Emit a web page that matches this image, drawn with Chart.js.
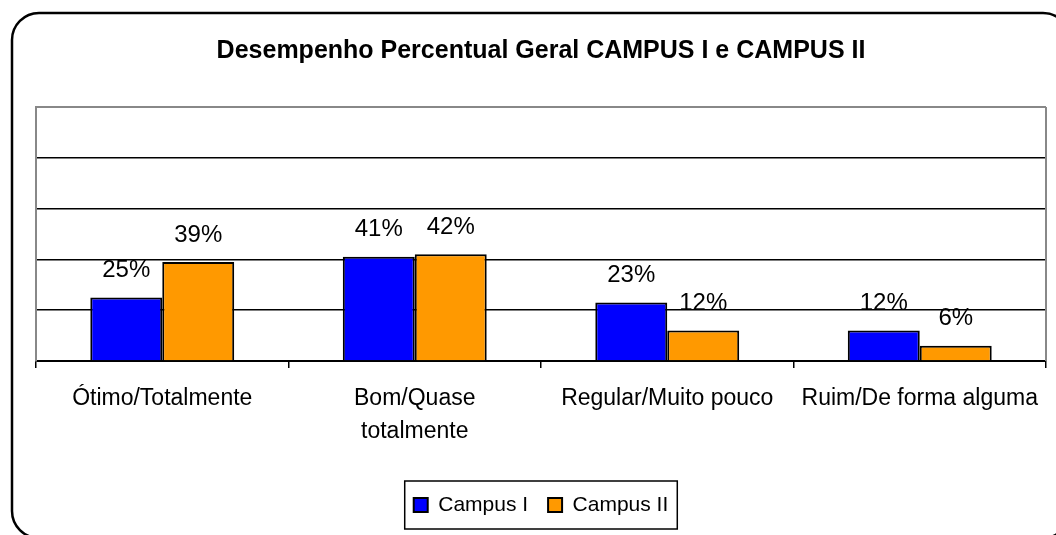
<!DOCTYPE html>
<html>
<head>
<meta charset="utf-8">
<script src="https://cdn.jsdelivr.net/npm/chart.js@4"></script>
<style>
  body { margin: 0; background: #fff; }
</style>
</head>
<body>
<canvas id="chart" width="1056" height="535"></canvas>
<script>
const categories = ["Ótimo/Totalmente", ["Bom/Quase", "totalmente"], "Regular/Muito pouco", "Ruim/De forma alguma"];
const campus1 = [25, 41, 23, 12];
const campus2 = [39, 42, 12, 6];
const yTicks = [0, 20, 40, 60, 80, 100];

const fontFamily = "'Liberation Sans', Arial, sans-serif";
Chart.defaults.font.family = fontFamily;
Chart.defaults.color = "#000";

// rounded outer frame, white background
const frame = {
  id: "frame",
  beforeDraw(chart) {
    const c = chart.ctx;
    c.save();
    c.fillStyle = "#fff";
    c.fillRect(0, 0, chart.width, chart.height);
    c.beginPath();
    c.roundRect(12, 13, 1058, 525, 27);
    c.lineWidth = 2.5;
    c.strokeStyle = "#000";
    c.stroke();
    c.restore();
  },
  afterDraw(chart) {
    const c = chart.ctx;
    const a = chart.chartArea;
    c.save();
    // right side of plot area
    c.strokeStyle = "#888";
    c.lineWidth = 2;
    c.beginPath();
    c.moveTo(a.right, a.top);
    c.lineTo(a.right, a.bottom);
    c.stroke();
    // box round the legend
    const boxes = chart.legend.legendHitBoxes;
    if (boxes && boxes.length) {
      const first = boxes[0], last = boxes[boxes.length - 1];
      const x0 = first.left - 9;
      const x1 = last.left + last.width + 9;
      const y0 = first.top - 13.5;
      const y1 = first.top + first.height + 13.5;
      c.strokeStyle = "#000";
      c.lineWidth = 1.5;
      c.strokeRect(x0, y0, x1 - x0, y1 - y0);
    }
    c.restore();
  }
};

// percentage labels above each bar
const barLabels = {
  id: "barLabels",
  afterDatasetsDraw(chart) {
    const c = chart.ctx;
    c.save();
    c.font = "24px " + fontFamily;
    c.fillStyle = "#000";
    c.textAlign = "center";
    c.textBaseline = "middle";
    chart.data.datasets.forEach((ds, i) => {
      chart.getDatasetMeta(i).data.forEach((bar, j) => {
        c.fillText(ds.data[j] + "%", bar.x, bar.y - 27);
      });
    });
    c.restore();
  }
};

new Chart(document.getElementById("chart"), {
  type: "bar",
  plugins: [frame, barLabels],
  data: {
    labels: categories,
    datasets: [
      {
        label: "Campus I",
        data: campus1,
        backgroundColor: "#0000ff",
        borderColor: "#000",
        borderWidth: 2,
        barPercentage: 1,
        categoryPercentage: 0.57
      },
      {
        label: "Campus II",
        data: campus2,
        backgroundColor: "#ff9900",
        borderColor: "#000",
        borderWidth: 2,
        barPercentage: 1,
        categoryPercentage: 0.57
      }
    ]
  },
  options: {
    responsive: false,
    animation: false,
    layout: { padding: { left: 36, right: 10, top: 0, bottom: 9.5 } },
    plugins: {
      tooltip: { enabled: false },
      title: {
        display: true,
        text: "Desempenho Percentual Geral CAMPUS I e CAMPUS II",
        font: { size: 25, weight: "bold" },
        padding: { top: 36, bottom: 41 }
      },
      legend: {
        position: "bottom",
        labels: {
          font: { size: 21 },
          boxWidth: 14,
          boxHeight: 14,
          padding: 20,
          color: "#000"
        }
      }
    },
    scales: {
      x: {
        grid: {
          display: true,
          drawOnChartArea: false,
          drawTicks: true,
          tickLength: 7,
          color: "#000",
          lineWidth: 1.5
        },
        border: { color: "#000", width: 2 },
        ticks: {
          font: { size: 23, lineHeight: 1.45 },
          padding: 14,
          maxRotation: 0,
          autoSkip: false
        },
        afterFit(scale) { scale.height = 113.5; }
      },
      y: {
        min: 0,
        max: 100,
        afterBuildTicks(scale) { scale.ticks = yTicks.map(v => ({ value: v })); },
        ticks: { display: false },
        grid: {
          drawTicks: false,
          color: ctx => (ctx.tick && ctx.tick.value === 100 ? "#888" : "#000"),
          lineWidth: ctx => (ctx.tick && ctx.tick.value === 100 ? 2 : 1.5)
        },
        border: { color: "#888", width: 2 },
        afterFit(scale) { scale.width = 0; }
      }
    }
  }
});
</script>
</body>
</html>
